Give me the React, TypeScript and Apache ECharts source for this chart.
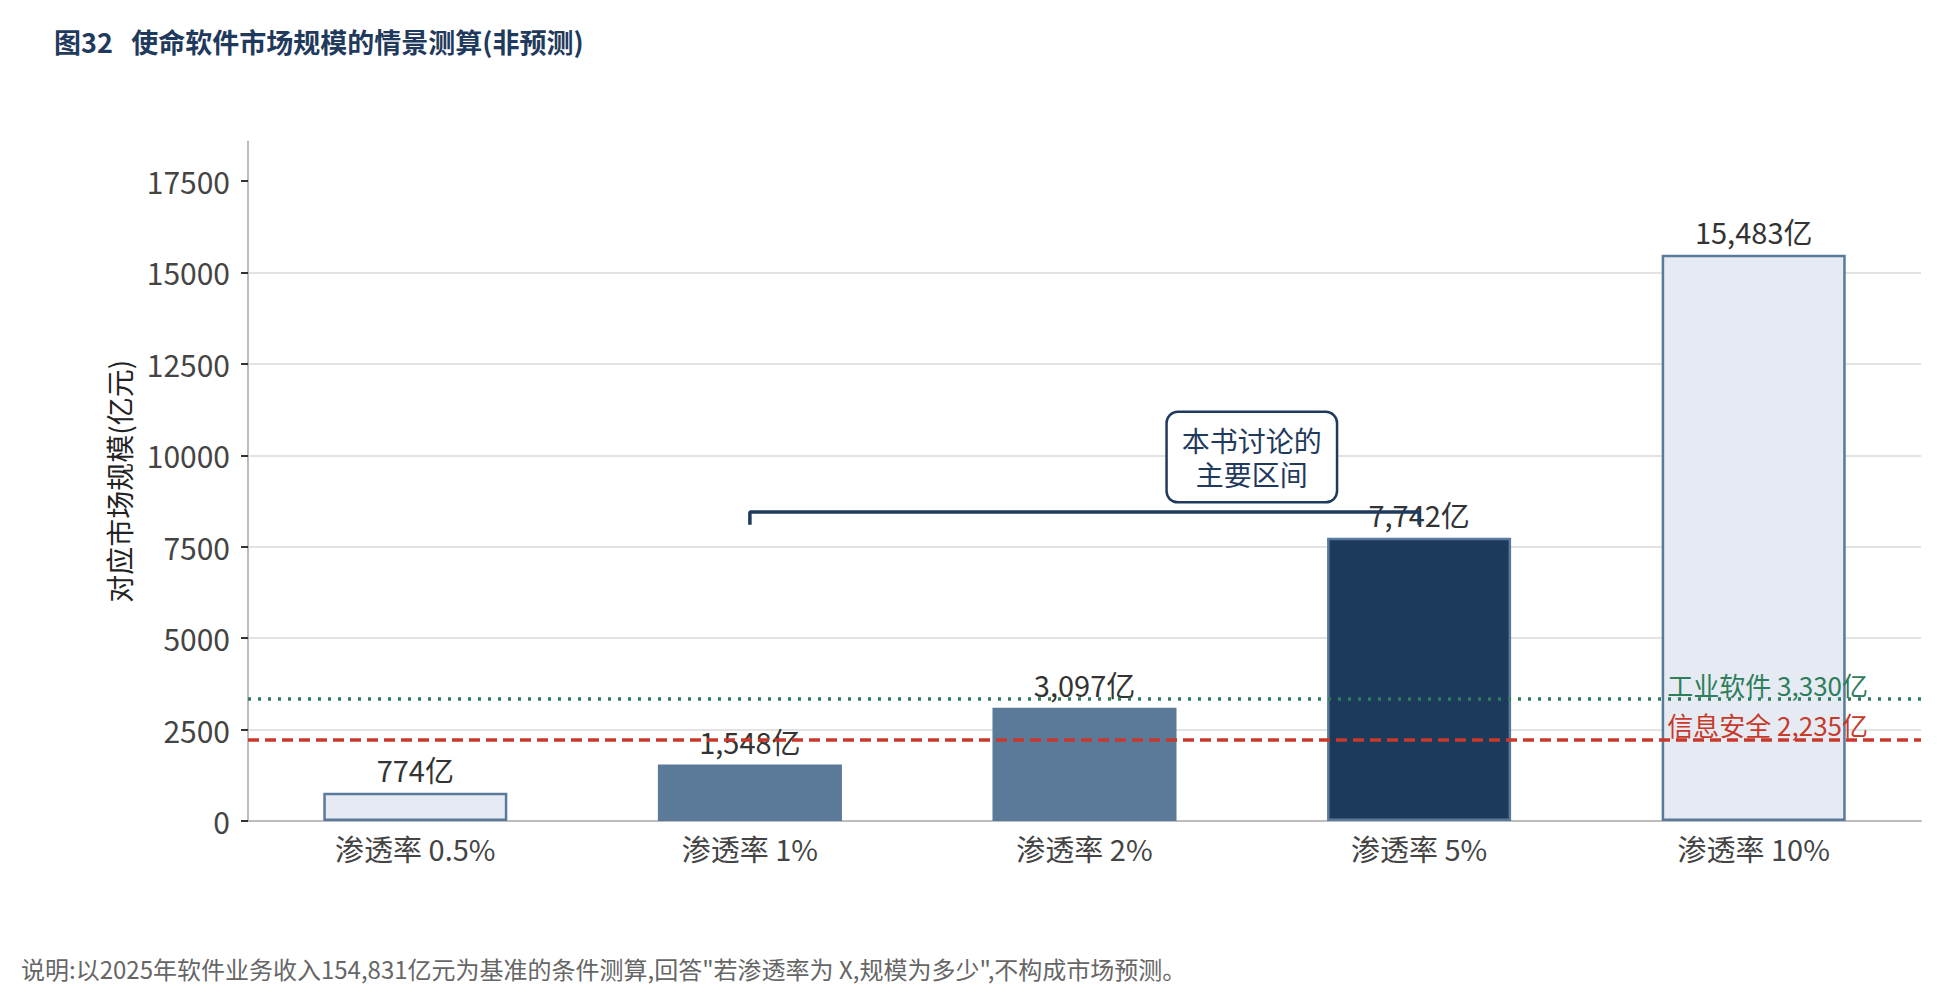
import { useEffect, useRef } from "react";
import * as echarts from "echarts";

const TITLE = "图32\u00a0\u00a0\u00a0使命软件市场规模的情景测算(非预测)";
const FOOTNOTE =
  '说明:以2025年软件业务收入154,831亿元为基准的条件测算,回答"若渗透率为 X,规模为多少",不构成市场预测。';
const Y_NAME = "对应市场规模(亿元)";

const CATEGORIES = ["渗透率 0.5%", "渗透率 1%", "渗透率 2%", "渗透率 5%", "渗透率 10%"];
const VALUES = [774, 1548, 3097, 7742, 15483];
const Y_TICKS = [0, 2500, 5000, 7500, 10000, 12500, 15000, 17500];
const Y_MAX = 18580;

const REF_NAMES = ["工业软件", "信息安全"];
const REF_VALUES = [3330, 2235];

// bracket over 1% .. 5%
const BRACKET_FROM = "渗透率 1%";
const BRACKET_TO = "渗透率 5%";
const BRACKET_Y = 8450;
const BRACKET_TICK_Y = 8100;
const NOTE_TEXT = "本书讨论的\n主要区间";
const NOTE_BETWEEN = ["渗透率 2%", "渗透率 5%"];
const NOTE_Y = 9950;

const FONT = "'Noto Sans CJK SC', 'Noto Sans', sans-serif";
const NAVY = "#1f3a5c";
const LIGHT = { color: "#e6ebf3", borderColor: "#5a7a9b", borderWidth: 2.5 };
const MID = { color: "#5b7a99", borderColor: "#5b7a99", borderWidth: 0 };
const DARK = { color: "#1b3a5c", borderColor: "#5a7a9b", borderWidth: 2.5 };
const BAR_STYLES = [LIGHT, MID, MID, DARK, LIGHT];
const REF_STYLES = [
  { color: "#2e7d5b", type: [3, 7] },
  { color: "#c73a2b", type: [11, 6] },
];

const fmt = (v: number) => v.toLocaleString("en-US");

export default function App() {
  const chartRef = useRef<HTMLDivElement>(null);

  useEffect(() => {
    if (!chartRef.current) return;
    const chart = echarts.init(chartRef.current, null, { renderer: "svg" });

    const option = {
      animation: false,
      backgroundColor: "#ffffff",
      textStyle: { fontFamily: FONT },
      title: {
        text: TITLE,
        left: 54,
        top: 28,
        padding: 0,
        textStyle: { fontSize: 27, fontWeight: "bold", color: NAVY, fontFamily: FONT },
      },
      grid: { left: 248, right: 19, top: 141.5, bottom: 184 },
      xAxis: {
        type: "category",
        data: CATEGORIES,
        axisLine: { lineStyle: { color: "#bdbdbd", width: 2 } },
        axisTick: { alignWithLabel: true, length: 7, lineStyle: { color: "#333", width: 2 } },
        axisLabel: { fontSize: 29, color: "#444", margin: 12, fontFamily: FONT },
      },
      yAxis: {
        type: "value",
        min: 0,
        max: Y_MAX,
        interval: 2500,
        name: Y_NAME,
        nameLocation: "middle",
        nameGap: 115,
        nameTextStyle: { fontSize: 28, color: "#222", fontFamily: FONT },
        axisLine: { show: true, lineStyle: { color: "#bdbdbd", width: 2 } },
        axisTick: {
          show: true,
          length: 7,
          customValues: Y_TICKS,
          lineStyle: { color: "#333", width: 2 },
        },
        axisLabel: {
          fontSize: 30,
          color: "#444",
          margin: 18,
          customValues: Y_TICKS,
          formatter: (v: number) => String(v),
          fontFamily: FONT,
        },
        splitLine: { showMaxLine: false, lineStyle: { color: "#e3e3e3", width: 2 } },
      },
      series: [
        {
          type: "bar",
          barWidth: "55%",
          data: VALUES.map((v, i) => ({ value: v, itemStyle: BAR_STYLES[i] })),
          label: {
            show: true,
            position: "top",
            distance: 9,
            fontSize: 29,
            color: "#333",
            fontFamily: FONT,
            formatter: (p: any) => fmt(p.value) + "亿",
          },
          markLine: {
            silent: true,
            symbol: "none",
            data: REF_VALUES.map((v, i) => ({
              yAxis: v,
              lineStyle: { color: REF_STYLES[i].color, type: REF_STYLES[i].type, width: 3.5 },
              label: {
                show: true,
                position: "insideEndTop",
                distance: [53, 2],
                fontSize: 26,
                color: REF_STYLES[i].color,
                fontFamily: FONT,
                formatter: REF_NAMES[i] + " " + fmt(v) + "亿",
              },
            })),
          },
        },
        {
          type: "line",
          symbol: "none",
          silent: true,
          z: 3,
          lineStyle: { color: NAVY, width: 3.5 },
          data: [
            [BRACKET_FROM, BRACKET_TICK_Y],
            [BRACKET_FROM, BRACKET_Y],
            [BRACKET_TO, BRACKET_Y],
            [BRACKET_TO, BRACKET_TICK_Y],
          ],
        },
      ],
    };

    chart.setOption(option);

    const a = chart.convertToPixel({ gridIndex: 0 }, [NOTE_BETWEEN[0], NOTE_Y]) as number[];
    const b = chart.convertToPixel({ gridIndex: 0 }, [NOTE_BETWEEN[1], NOTE_Y]) as number[];
    chart.setOption({
      graphic: [
        {
          type: "text",
          x: (a[0] + b[0]) / 2,
          y: a[1],
          z: 10,
          style: {
            text: NOTE_TEXT,
            align: "center",
            verticalAlign: "middle",
            fontSize: 28,
            fontFamily: FONT,
            lineHeight: 34,
            fill: NAVY,
            backgroundColor: "#ffffff",
            borderColor: NAVY,
            borderWidth: 2.5,
            borderRadius: 10,
            padding: [10, 14, 10, 14],
          },
        },
        {
          type: "text",
          left: 21,
          top: 956,
          style: {
            text: FOOTNOTE,
            fontSize: 24,
            fontFamily: FONT,
            fill: "#666",
          },
        },
      ],
    });

    return () => chart.dispose();
  }, []);

  return (
    <div
      ref={chartRef}
      style={{ position: "fixed", left: 0, top: 0, width: "100vw", height: "100vh" }}
    />
  );
}
